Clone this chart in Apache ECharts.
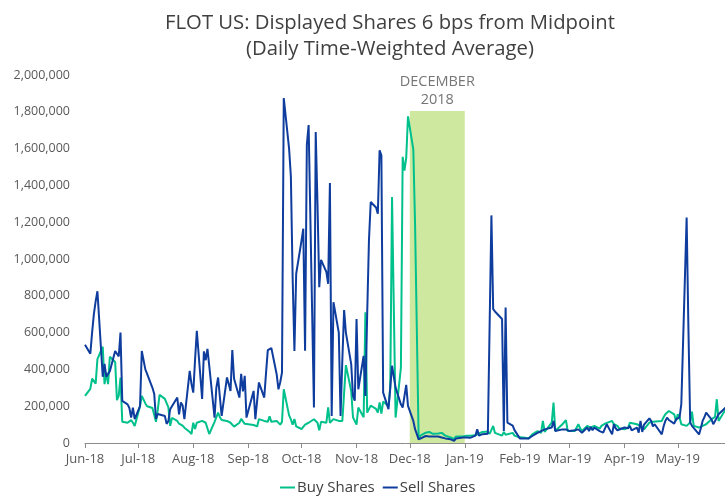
<!DOCTYPE html>
<html>
<head>
<meta charset="utf-8">
<script src="https://cdn.jsdelivr.net/npm/echarts@6/dist/echarts.min.js"></script>
<style>
  html, body { margin: 0; padding: 0; background: #fff; }
  #chart { width: 725px; height: 499px; }
</style>
</head>
<body>
<div id="chart"></div>
<script>
// daily values in thousands of shares, one per trading day of each month
var buyJun18 = [256, 294, 350, 340, 323, 456, 523, 320, 383, 320, 469, 440, 233, 256, 356, 116, 110, 102, 124, 110, 93];
var buyJul18 = [200, 256, 215, 200, 190, 187, 115, 180, 262, 240, 240, 193, 93, 136, 120, 105, 104, 95, 83, 60, 49];
var buyAug18 = [110, 76, 110, 120, 124, 110, 100, 49, 115, 116, 165, 140, 125, 120, 118, 110, 100, 89, 110, 131, 140, 104, 110];
var buySep18 = [98, 95, 90, 130, 120, 110, 115, 145, 115, 120, 130, 100, 115, 292, 150, 128, 100, 130, 90];
var buyOct18 = [76, 70, 100, 90, 110, 129, 134, 110, 69, 115, 110, 193, 110, 120, 130, 120, 110, 120, 125, 423, 283, 140, 130];
var buyNov18 = [100, 193, 140, 710, 165, 174, 203, 185, 165, 220, 160, 225, 200, 301, 1337, 138, 410, 1555, 1480, 1550, 1775];
var buyDec18 = [1595, 1180, 20, 40, 56, 50, 60, 55, 50, 52, 50, 55, 45, 40, 30, 22, 35, 38, 35];
var buyJan19 = [40, 45, 40, 42, 48, 52, 55, 60, 62, 50, 60, 93, 55, 40, 60, 45, 35, 55, 40, 35, 33];
var buyFeb19 = [29, 28, 27, 25, 35, 47, 65, 65, 55, 120, 60, 111, 220, 65, 65, 102, 111, 124, 65];
var buyMar19 = [60, 65, 69, 102, 80, 65, 93, 88, 84, 90, 93, 78, 93, 100, 105, 111, 120, 102, 111, 93, 80];
var buyApr19 = [74, 80, 84, 110, 120, 102, 98, 93, 84, 74, 111, 102, 115, 120, 120, 140, 156, 147, 174, 156, 120];
var buyMay19 = [156, 140, 102, 93, 84, 111, 171, 93, 84, 90, 93, 100, 102, 129, 135, 142, 238, 120, 184, 150, 160, 170];

var sellJun18 = [534, 485, 600, 700, 770, 825, 360, 430, 360, 365, 390, 500, 490, 470, 600, 229, 210, 190, 138, 192, 130];
var sellJul18 = [200, 500, 400, 376, 300, 267, 131, 158, 150, 147, 104, 120, 184, 200, 247, 156, 220, 205, 130, 392, 320];
var sellAug18 = [274, 450, 610, 240, 498, 450, 512, 420, 138, 300, 356, 250, 147, 356, 320, 283, 505, 349, 247, 376, 280, 365, 138];
var sellSep18 = [283, 130, 230, 329, 247, 380, 505, 500, 516, 374, 292, 330, 383, 1875, 1600, 1450, 900, 500, 920];
var sellOct18 = [1100, 1165, 501, 1620, 1728, 193, 1690, 1300, 847, 995, 930, 865, 1413, 147, 765, 600, 147, 450, 723, 600, 429, 256, 230];
var sellNov18 = [674, 292, 474, 256, 700, 1101, 1310, 1280, 1246, 1591, 1564, 274, 184, 300, 420, 301, 210, 193, 193, 316, 202];
var sellDec18 = [120, 75, 20, 30, 38, 38, 35, 38, 36, 35, 33, 30, 30, 25, 20, 12, 25, 30, 30];
var sellJan19 = [30, 30, 28, 40, 75, 40, 45, 48, 50, 55, 1237, 728, 715, 674, 65, 737, 111, 95, 70, 65, 40];
var sellFeb19 = [25, 25, 22, 25, 30, 38, 55, 65, 65, 65, 74, 84, 120, 65, 74, 74, 69, 74, 78];
var sellMar19 = [65, 69, 78, 74, 65, 56, 84, 65, 87, 69, 84, 65, 56, 56, 80, 102, 47, 102, 80, 69, 78];
var sellApr19 = [84, 74, 80, 93, 69, 84, 56, 120, 60, 100, 134, 120, 90, 102, 47, 90, 120, 138, 125, 105, 129];
var sellMay19 = [120, 138, 211, 1225, 628, 111, 93, 84, 47, 80, 120, 140, 165, 129, 102, 120, 138, 156, 193, 180, 200, 190];

var months = ['2018-06', '2018-07', '2018-08', '2018-09', '2018-10', '2018-11', '2018-12', '2019-01', '2019-02', '2019-03', '2019-04', '2019-05'];
var holidays = ['2018-07-04', '2018-09-03', '2018-11-22', '2018-12-05', '2018-12-25', '2019-01-01', '2019-01-21', '2019-02-18', '2019-04-19', '2019-05-27'];
var monthNames = ['Jan', 'Feb', 'Mar', 'Apr', 'May', 'Jun', 'Jul', 'Aug', 'Sep', 'Oct', 'Nov', 'Dec'];
var yTicks = [0, 200000, 400000, 600000, 800000, 1000000, 1200000, 1400000, 1600000, 1800000, 2000000];
var decemberTop = 1805000;

var buyMonths = [buyJun18, buyJul18, buyAug18, buySep18, buyOct18, buyNov18, buyDec18, buyJan19, buyFeb19, buyMar19, buyApr19, buyMay19];
var sellMonths = [sellJun18, sellJul18, sellAug18, sellSep18, sellOct18, sellNov18, sellDec18, sellJan19, sellFeb19, sellMar19, sellApr19, sellMay19];

function pad(n) { return n < 10 ? '0' + n : '' + n; }

// weekdays of a month minus exchange holidays
function tradingDays(ym) {
	var y = +ym.slice(0, 4), m = +ym.slice(5, 7);
	var last = new Date(y, m, 0).getDate();
	var out = [];
	for (var d = 1; d <= last; d++) {
		var wd = new Date(y, m - 1, d).getDay();
		var s = ym + '-' + pad(d);
		if (wd !== 0 && wd !== 6 && holidays.indexOf(s) < 0) out.push(s);
	}
	return out;
}

var buyData = [], sellData = [];
for (var i = 0; i < months.length; i++) {
	var days = tradingDays(months[i]);
	for (var k = 0; k < days.length; k++) {
		if (buyMonths[i][k] != null) buyData.push([days[k], buyMonths[i][k] * 1000]);
		if (sellMonths[i][k] != null) sellData.push([days[k], sellMonths[i][k] * 1000]);
	}
}

var chart = echarts.init(document.getElementById('chart'));
var font = '"Open Sans", Lato, sans-serif';
var option = {
	backgroundColor: '#fff',
	animation: false,
	textStyle: { fontFamily: font },
	title: {
		text: 'FLOT US: Displayed Shares 6 bps from Midpoint\n(Daily Time-Weighted Average)',
		left: 385,
		textAlign: 'center',
		top: 5,
		textStyle: {
			color: '#404040',
			fontFamily: font,
			fontWeight: 'normal',
			fontSize: 20.3,
			lineHeight: 26
		}
	},
	legend: {
		bottom: -1,
		left: 275,
		icon: 'rect',
		itemWidth: 15,
		itemHeight: 2,
		itemGap: 8,
		textStyle: { color: '#404040', fontSize: 15, padding: [0, 0, 0, -3] },
		data: ['Buy Shares', 'Sell Shares']
	},
	grid: {
		left: 85,
		width: 646,
		top: 75,
		bottom: 56,
		outerBoundsMode: 'none'
	},
	xAxis: {
		type: 'time',
		min: '2018-06-01',
		max: '2019-05-31',
		splitNumber: 12,
		minInterval: 28 * 86400000,
		maxInterval: 31 * 86400000,
		axisLine: { lineStyle: { color: '#8c8c8c', width: 1 } },
		axisTick: { show: true, length: 5, lineStyle: { color: '#8c8c8c' } },
		splitLine: { show: false },
		axisLabel: {
			color: '#595959',
			fontSize: 13,
			margin: 10,
			showMaxLabel: false,
			formatter: function (v) {
				var d = new Date(v);
				return monthNames[d.getMonth()] + '-' + String(d.getFullYear()).slice(2);
			}
		}
	},
	yAxis: {
		type: 'value',
		min: yTicks[0],
		max: yTicks[yTicks.length - 1],
		interval: yTicks[1] - yTicks[0],
		axisLine: { show: false },
		axisTick: { show: false },
		splitLine: { show: false },
		axisLabel: {
			color: '#595959',
			fontSize: 12.5,
			margin: 15,
			formatter: function (v) { return v.toLocaleString('en-US'); }
		}
	},
	series: [
		{
			name: 'Buy Shares',
			type: 'line',
			showSymbol: false,
			color: '#00c08b',
			lineStyle: { width: 2 },
			z: 3,
			data: buyData,
			markArea: {
				silent: true,
				itemStyle: { color: '#cfe8a0' },
				label: {
					show: true,
					position: 'top',
					distance: 2,
					color: '#767676',
					fontSize: 14.5,
					lineHeight: 18,
					formatter: 'DECEMBER\n2018'
				},
				data: [[{ xAxis: '2018-12-01', yAxis: 0 }, { xAxis: '2019-01-01', yAxis: decemberTop }]]
			}
		},
		{
			name: 'Sell Shares',
			type: 'line',
			showSymbol: false,
			color: '#0f3d9e',
			lineStyle: { width: 2 },
			z: 4,
			data: sellData
		}
	]
};
chart.setOption(option);
</script>
</body>
</html>
